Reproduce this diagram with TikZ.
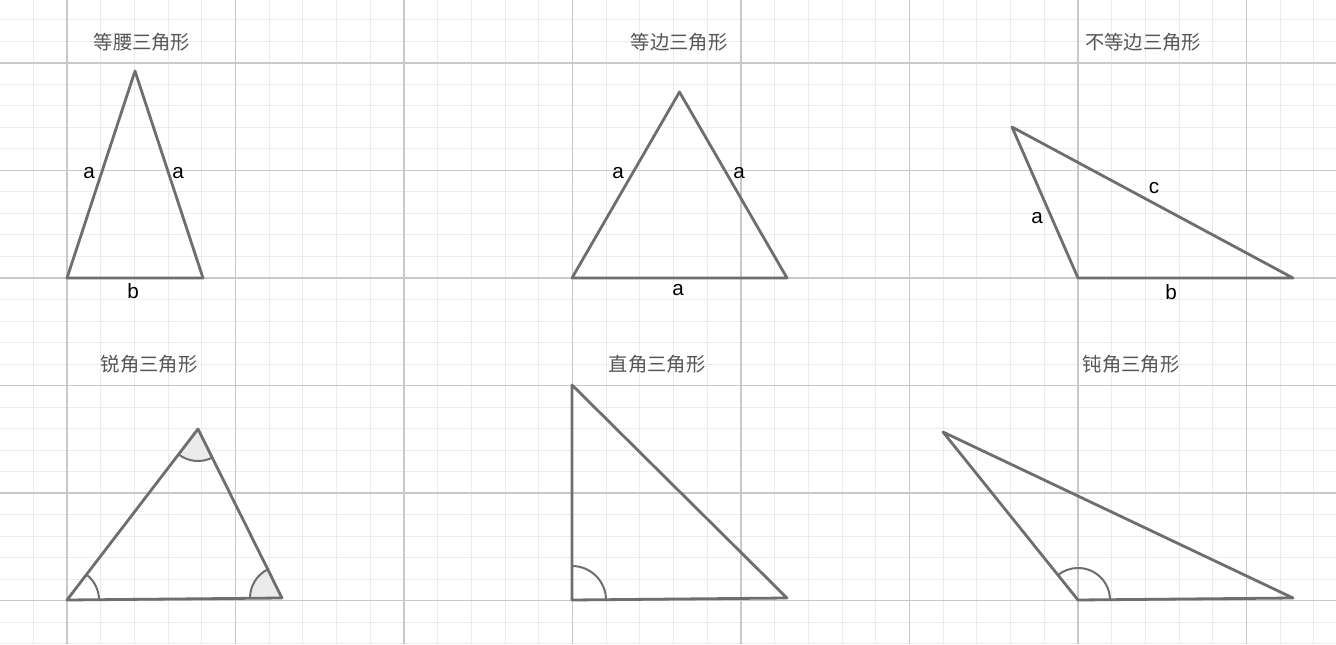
\documentclass[tikz,border=0pt]{standalone}
\usepackage{fontspec}
\setmainfont{Liberation Sans}
\newfontfamily\cjkfont{Noto Sans CJK SC}
\definecolor{gridminor}{HTML}{EBEBEB}
\definecolor{gridmajor}{HTML}{C8C8C8}
\definecolor{edgegray}{HTML}{6E6E6E}
\definecolor{anglefill}{HTML}{EBEBEB}
\definecolor{titlegray}{HTML}{555555}

\begin{document}
\begin{tikzpicture}[x=0.75pt,y=0.75pt]
\tikzset{
  minorline/.style={draw=gridminor,line width=0.75pt},
  majorline/.style={draw=gridmajor,line width=1.1pt},
  triedge/.style={draw=edgegray,line width=2.1pt,line cap=round,line join=round},
  anglemark/.style={draw=edgegray,line width=1.5pt},
  sidelabel/.style={font=\fontsize{15.5}{17}\selectfont,inner sep=0pt},
  titlelabel/.style={font=\cjkfont\fontsize{14.5}{17}\selectfont,text=titlegray,inner sep=0pt}
}
\useasboundingbox (0,0) rectangle (1336,644);
\fill[white] (0,0) rectangle (1336,644);
% grid
\begin{scope}
\clip (0,0) rectangle (1336,644);
\foreach \k in {-2,...,38} \draw[minorline] ({67+33.7*\k},0) -- ({67+33.7*\k},644);
\foreach \k in {-3,...,28} \draw[minorline] (0,{43.5+21.5*\k}) -- (1336,{43.5+21.5*\k});
\foreach \k in {0,...,7} \draw[majorline] ({67+168.5*\k},0) -- ({67+168.5*\k},644);
\foreach \k in {0,...,5} \draw[majorline] (0,{43.5+107.5*\k}) -- (1336,{43.5+107.5*\k});
\end{scope}

% vertices
\coordinate (iA) at (67,366);
\coordinate (iB) at (203,366);
\coordinate (iC) at (135,573);
\coordinate (eA) at (572,366);
\coordinate (eB) at (787,366);
\coordinate (eC) at (679.5,552);
\coordinate (sA) at (1012,517);
\coordinate (sB) at (1078,366);
\coordinate (sC) at (1293,366);
\coordinate (aA) at (67,44);
\coordinate (aB) at (282,46);
\coordinate (aC) at (198,215);
\coordinate (rA) at (572,44);
\coordinate (rB) at (572,259);
\coordinate (rC) at (787,46);
\coordinate (oA) at (943,212);
\coordinate (oB) at (1078,44);
\coordinate (oC) at (1293,46);

% angle marks
\fill[anglefill] (aB) -- ++(180.5:32) arc[start angle=180.5,end angle=116.4,radius=32] -- cycle;
\fill[anglefill] (aC) -- ++(232.5:32) arc[start angle=232.5,end angle=296.4,radius=32] -- cycle;
\draw[anglemark] (aA) ++(0.5:32) arc[start angle=0.5,end angle=52.5,radius=32];
\draw[anglemark] (aB) ++(180.5:32) arc[start angle=180.5,end angle=116.4,radius=32];
\draw[anglemark] (aC) ++(232.5:32) arc[start angle=232.5,end angle=296.4,radius=32];
\draw[anglemark] (rA) ++(0.5:34) arc[start angle=0.5,end angle=90,radius=34];
\draw[anglemark] (oB) ++(0.5:32) arc[start angle=0.5,end angle=128.8,radius=32];

% triangles
\draw[triedge] (iA) -- (iB) -- (iC) -- cycle;
\draw[triedge] (eA) -- (eB) -- (eC) -- cycle;
\draw[triedge] (sA) -- (sB) -- (sC) -- cycle;
\draw[triedge] (aA) -- (aB) -- (aC) -- cycle;
\draw[triedge] (rA) -- (rB) -- (rC) -- cycle;
\draw[triedge] (oA) -- (oB) -- (oC) -- cycle;

% side labels
\node[sidelabel] (i_a1) at (89,471) {a};
\node[sidelabel] (i_a2) at (178,471) {a};
\node[sidelabel] (i_b) at (133,353) {b};
\node[sidelabel] (e_a1) at (618,471) {a};
\node[sidelabel] (e_a2) at (739,471) {a};
\node[sidelabel] (e_a3) at (678,354) {a};
\node[sidelabel] (s_a) at (1037,426) {a};
\node[sidelabel] (s_c) at (1154,456) {c};
\node[sidelabel] (s_b) at (1171,352) {b};

% titles
\node[titlelabel] (t_iso) at (142,602) {等腰三角形};
\node[titlelabel] (t_equ) at (679,602) {等边三角形};
\node[titlelabel] (t_sca) at (1143,602) {不等边三角形};
\node[titlelabel] (t_acu) at (149,280) {锐角三角形};
\node[titlelabel] (t_rig) at (657,280) {直角三角形};
\node[titlelabel] (t_obt) at (1131,280) {钝角三角形};
\end{tikzpicture}
\end{document}
